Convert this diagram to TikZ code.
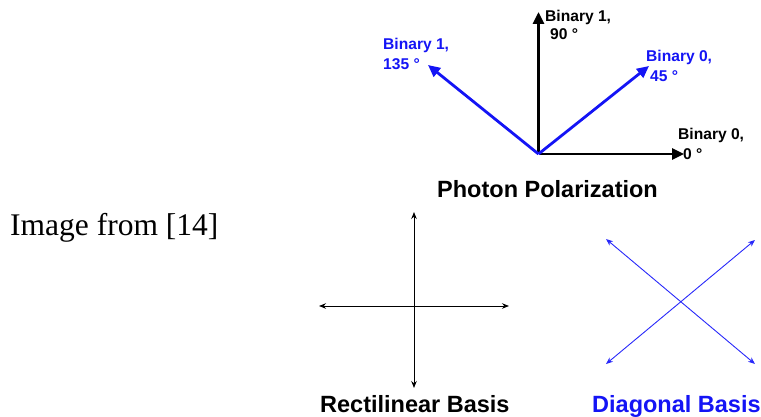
\documentclass[tikz,border=0pt]{standalone}
\usepackage{fontspec}
\setmainfont{Liberation Serif}
\newfontfamily\arialbf{Liberation Sans}[BoldFont={Liberation Sans Bold}]
\usetikzlibrary{arrows.meta}
\begin{document}
\begin{tikzpicture}[x=1pt,y=-1pt,
  vec/.style={line width=2.8pt,-{Triangle[length=12pt,width=11pt]}},
  basisline/.style={line width=0.9pt,{Stealth[length=7pt,width=5.5pt]}-{Stealth[length=7pt,width=5.5pt]}},
  lbl/.style={anchor=base west,inner sep=0pt,font=\arialbf\bfseries\fontsize{15.6}{18}\selectfont},
  ttl/.style={anchor=base west,inner sep=0pt,font=\arialbf\bfseries\fontsize{23.5}{28}\selectfont}]
\useasboundingbox (0,0) rectangle (761,417);
\definecolor{pblue}{RGB}{20,20,245}
\definecolor{dblue}{RGB}{40,40,250}
% top diagram
\coordinate (O) at (538.5,154);
\coordinate (T90) at (538.5,12);
\coordinate (T0) at (684,154);
\coordinate (T45) at (649,66);
\coordinate (T135) at (428,65);
\draw[vec,black] (O) -- (T0);
\draw[vec,black] (O) -- (T90);
\draw[vec,pblue] (O) -- (T45);
\draw[vec,pblue] (O) -- (T135);
\node[lbl] (l90a) at (545,22) {Binary 1,};
\node[lbl] (l90b) at (550,40) {90 °};
\node[lbl,text=pblue] (l135a) at (383,50) {Binary 1,};
\node[lbl,text=pblue] (l135b) at (383,70) {135 °};
\node[lbl,text=pblue] (l45a) at (646,62) {Binary 0,};
\node[lbl,text=pblue] (l45b) at (650,82) {45 °};
\node[lbl] (l0a) at (678,140) {Binary 0,};
\node[lbl] (l0b) at (683,160) {0 °};
\node[ttl] (pp) at (437,198) {Photon Polarization};
% side note
\node[anchor=base west,inner sep=0pt,font=\fontsize{31.5}{36}\selectfont] (img) at (10,236) {Image from [14]};
% rectilinear basis
\coordinate (RT) at (414,212);
\coordinate (RB) at (414,388);
\coordinate (RL) at (319,306);
\coordinate (RR) at (509,306);
\draw[basisline] (RT) -- (RB);
\draw[basisline] (RL) -- (RR);
\node[ttl] (rb) at (320,412) {Rectilinear Basis};
% diagonal basis
\coordinate (DTL) at (606,239);
\coordinate (DBR) at (755,364);
\coordinate (DTR) at (755,240);
\coordinate (DBL) at (606,364);
\draw[basisline,dblue] (DTL) -- (DBR);
\draw[basisline,dblue] (DTR) -- (DBL);
\node[ttl,text=pblue] (db) at (592,412) {Diagonal Basis};
\end{tikzpicture}
\end{document}
